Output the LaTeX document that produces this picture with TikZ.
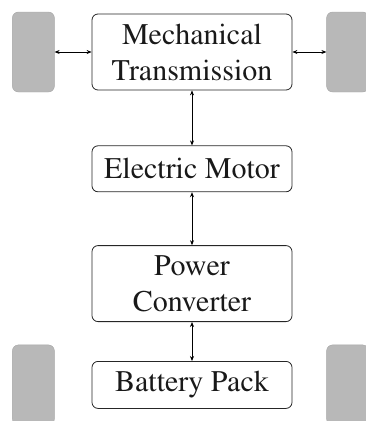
\documentclass[tikz,border=0pt]{standalone}
\usepackage[T1]{fontenc}
\usepackage{mathptmx}
\usetikzlibrary{arrows.meta, positioning}

\begin{document}
\begin{tikzpicture}[
    >={Stealth[length=5pt,width=4pt]},
    block/.style={draw=black!85, line width=0.8pt, rounded corners=6pt,
      minimum width=200pt, align=center, text=black!90,
      font=\fontsize{30}{36}\selectfont},
    wheel/.style={fill=black!28, draw=black!35, rounded corners=6pt,
      minimum width=42pt, minimum height=80pt, inner sep=0pt}]
  \useasboundingbox (0,0) rectangle (365pt,-421pt);

  \node (mt) [block, minimum height=76pt] at (192pt,-52pt) {Mechanical\\Transmission};
  \node (em) [block, minimum height=46pt, below=55pt of mt] {Electric Motor};
  \node (pc) [block, minimum height=76pt, below=53pt of em] {Power\\Converter};
  \node (bp) [block, minimum height=47pt, below=39pt of pc] {Battery Pack};

  \node (wfl) [wheel, left=37pt of mt] {};
  \node (wfr) [wheel, right=34pt of mt] {};
  \node (wrl) [wheel, left=37pt of bp] {};
  \node (wrr) [wheel, right=34pt of bp] {};

  \draw[<->, line width=0.7pt] (wfl) -- (mt);
  \draw[<->, line width=0.7pt] (mt) -- (wfr);
  \draw[<->, line width=0.7pt] (mt) -- (em);
  \draw[<->, line width=0.7pt] (em) -- (pc);
  \draw[<->, line width=0.7pt] (pc) -- (bp);
\end{tikzpicture}
\end{document}
